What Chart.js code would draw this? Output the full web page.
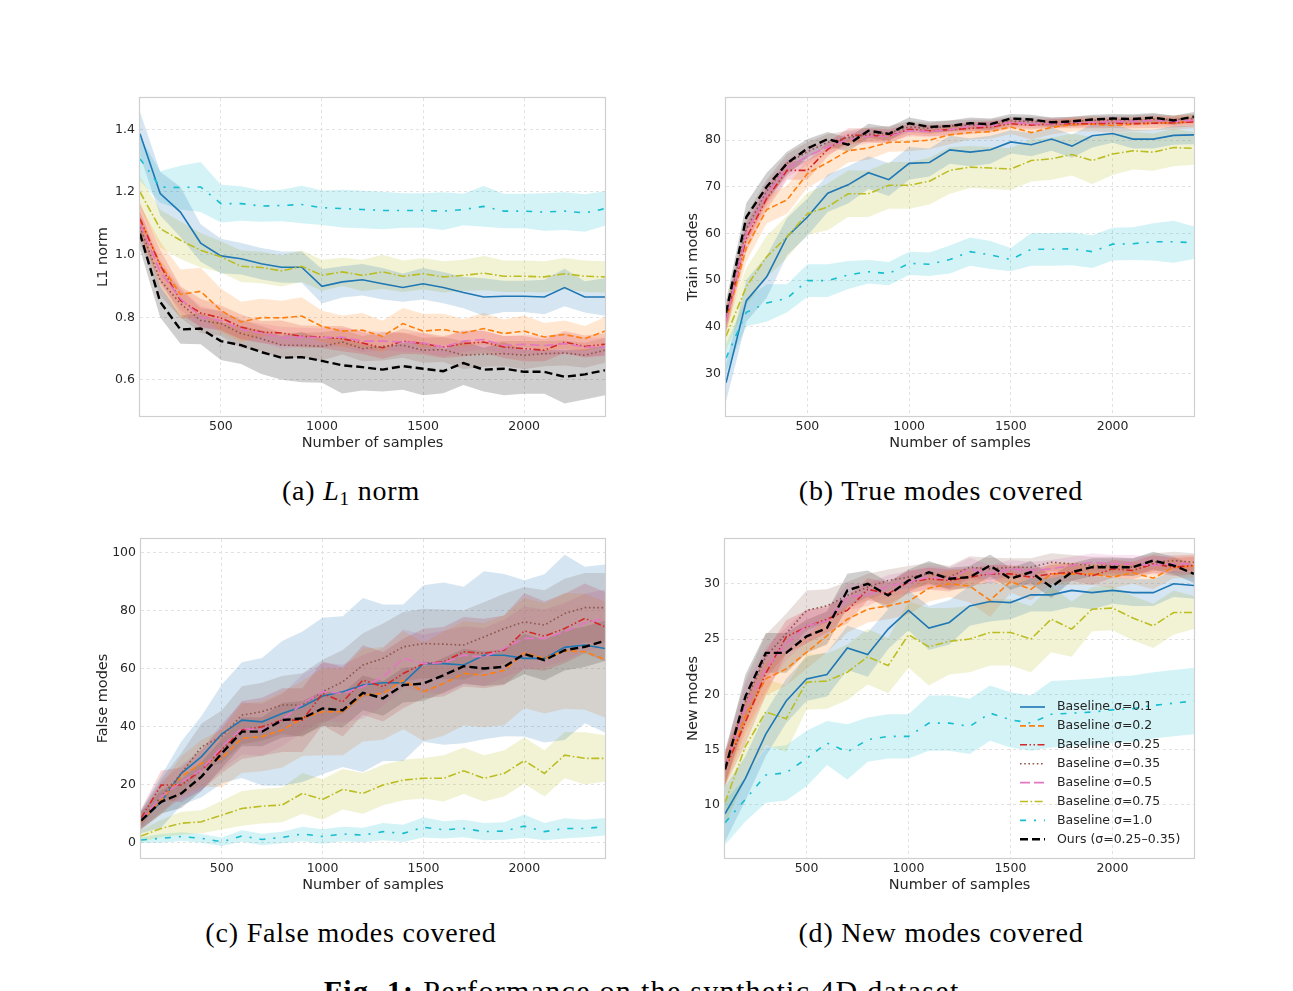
<!DOCTYPE html>
<html>
<head>
<meta charset="utf-8">
<title>Performance on the synthetic 4D dataset</title>
<script src="https://cdn.jsdelivr.net/npm/chart.js@4.4.1/dist/chart.umd.min.js"></script>
<style>
  html, body { margin: 0; padding: 0; background: #fff; }
  body { width: 1293px; height: 991px; position: relative; overflow: hidden; }
  canvas { position: absolute; }
  .cap {
    position: absolute;
    font-family: "Liberation Serif", "DejaVu Serif", serif;
    font-size: 28px;
    line-height: 28px;
    color: #000;
    white-space: nowrap;
    letter-spacing: 0.8px;
    transform: translateX(-50%);
  }
  .cap sub { font-size: 19px; vertical-align: -5px; line-height: 0; }
  .cap.fig { font-size: 30px; line-height: 30px; letter-spacing: 1.3px; }
</style>
</head>
<body>
<canvas id="chartA" width="525" height="372" style="left:90px;top:88px"></canvas>
<canvas id="chartB" width="524" height="372" style="left:680px;top:88px"></canvas>
<canvas id="chartC" width="525" height="373" style="left:90px;top:529px"></canvas>
<canvas id="chartD" width="524" height="373" style="left:680px;top:529px"></canvas>

<div class="cap" style="left:351px;top:477px">(a) <i>L</i><sub>1</sub> norm</div>
<div class="cap" style="left:941px;top:477px">(b) True modes covered</div>
<div class="cap" style="left:351px;top:919px">(c) False modes covered</div>
<div class="cap" style="left:941px;top:919px">(d) New modes covered</div>
<div class="cap fig" style="left:646px;top:976px"><b>Fig. 1:</b> Performance on the synthetic 4D dataset.</div>

<script>
// x values shared by every panel
const SAMPLES = [100, 200, 300, 400, 500, 600, 700, 800, 900, 1000, 1100, 1200,
                 1300, 1400, 1500, 1600, 1700, 1800, 1900, 2000, 2100, 2200, 2300, 2400];
const X_TICKS = [500, 1000, 1500, 2000];

const LABELS = ["Baseline σ=0.1", "Baseline σ=0.2", "Baseline σ=0.25", "Baseline σ=0.35",
                "Baseline σ=0.5", "Baseline σ=0.75", "Baseline σ=1.0", "Ours (σ=0.25–0.35)"];

// (a) L1 norm
const L1_TICKS = [0.6, 0.8, 1.0, 1.2, 1.4];
const L1_S010 = [1.386, 1.195, 1.136, 1.037, 0.996, 0.987, 0.971, 0.960, 0.960, 0.899, 0.913, 0.920, 0.907, 0.895, 0.907, 0.895, 0.879, 0.865, 0.867, 0.867, 0.865, 0.895, 0.865, 0.865];
const L1_S020 = [1.110, 0.971, 0.873, 0.883, 0.822, 0.785, 0.799, 0.798, 0.804, 0.771, 0.756, 0.759, 0.739, 0.780, 0.756, 0.761, 0.750, 0.764, 0.748, 0.756, 0.737, 0.745, 0.732, 0.756];
const L1_S025 = [1.115, 0.966, 0.854, 0.814, 0.798, 0.769, 0.753, 0.750, 0.739, 0.737, 0.732, 0.718, 0.703, 0.724, 0.716, 0.705, 0.716, 0.721, 0.705, 0.700, 0.695, 0.721, 0.707, 0.714];
const L1_S035 = [1.088, 0.918, 0.844, 0.790, 0.780, 0.748, 0.732, 0.711, 0.711, 0.707, 0.721, 0.700, 0.707, 0.711, 0.695, 0.697, 0.679, 0.682, 0.684, 0.679, 0.684, 0.686, 0.679, 0.695];
const L1_S050 = [1.099, 0.945, 0.860, 0.801, 0.790, 0.761, 0.750, 0.735, 0.737, 0.735, 0.737, 0.724, 0.724, 0.721, 0.718, 0.705, 0.724, 0.729, 0.710, 0.714, 0.710, 0.716, 0.705, 0.705];
const L1_S075 = [1.200, 1.083, 1.046, 1.014, 0.993, 0.963, 0.959, 0.948, 0.963, 0.934, 0.945, 0.934, 0.945, 0.931, 0.939, 0.929, 0.934, 0.941, 0.931, 0.931, 0.929, 0.939, 0.931, 0.929];
const L1_S100 = [1.306, 1.216, 1.214, 1.216, 1.163, 1.163, 1.155, 1.157, 1.160, 1.150, 1.147, 1.144, 1.141, 1.141, 1.141, 1.139, 1.144, 1.154, 1.139, 1.139, 1.136, 1.139, 1.133, 1.147];
const L1_OURS = [1.067, 0.849, 0.761, 0.764, 0.724, 0.711, 0.689, 0.671, 0.673, 0.661, 0.647, 0.641, 0.633, 0.644, 0.636, 0.628, 0.654, 0.633, 0.636, 0.626, 0.626, 0.610, 0.618, 0.631];
// half widths of the shaded bands
const L1_S010_ERR = [0.07, 0.07, 0.08, 0.06, 0.055, 0.05, 0.05, 0.05, 0.05, 0.055, 0.05, 0.05, 0.05, 0.045, 0.05, 0.05, 0.05, 0.06, 0.05, 0.05, 0.055, 0.06, 0.05, 0.06];
const L1_S020_ERR = [0.05, 0.07, 0.08, 0.075, 0.07, 0.065, 0.06, 0.055, 0.06, 0.05, 0.05, 0.055, 0.05, 0.05, 0.055, 0.05, 0.045, 0.05, 0.045, 0.05, 0.045, 0.045, 0.04, 0.045];
const L1_S025_ERR = [0.05, 0.05, 0.045, 0.045, 0.04, 0.04, 0.035, 0.04, 0.035, 0.035, 0.04, 0.035, 0.035, 0.04, 0.035, 0.035, 0.04, 0.035, 0.035, 0.04, 0.035, 0.035, 0.035, 0.035];
const L1_S035_ERR = [0.05, 0.05, 0.045, 0.04, 0.04, 0.045, 0.04, 0.04, 0.04, 0.045, 0.04, 0.04, 0.045, 0.04, 0.04, 0.04, 0.045, 0.04, 0.04, 0.045, 0.04, 0.04, 0.04, 0.04];
const L1_S050_ERR = [0.04, 0.04, 0.035, 0.035, 0.03, 0.03, 0.03, 0.035, 0.03, 0.03, 0.03, 0.035, 0.03, 0.03, 0.03, 0.03, 0.035, 0.03, 0.03, 0.03, 0.03, 0.035, 0.03, 0.03];
const L1_S075_ERR = [0.05, 0.06, 0.06, 0.055, 0.05, 0.05, 0.05, 0.05, 0.05, 0.05, 0.045, 0.05, 0.055, 0.05, 0.05, 0.05, 0.05, 0.055, 0.05, 0.05, 0.05, 0.05, 0.05, 0.05];
const L1_S100_ERR = [0.07, 0.05, 0.07, 0.08, 0.06, 0.055, 0.05, 0.05, 0.06, 0.055, 0.06, 0.06, 0.06, 0.055, 0.055, 0.06, 0.05, 0.065, 0.055, 0.055, 0.06, 0.06, 0.06, 0.055];
const L1_OURS_ERR = [0.05, 0.05, 0.045, 0.05, 0.06, 0.06, 0.07, 0.07, 0.08, 0.07, 0.09, 0.075, 0.07, 0.075, 0.085, 0.07, 0.07, 0.07, 0.085, 0.07, 0.07, 0.085, 0.08, 0.08];

// (b) true modes covered
const TM_TICKS = [30, 40, 50, 60, 70, 80];
const TM_S010 = [28.0, 45.6, 50.7, 59.3, 63.5, 68.6, 70.4, 73.0, 71.5, 75.0, 75.2, 77.9, 77.4, 77.9, 79.6, 79.0, 80.2, 78.7, 80.9, 81.4, 80.2, 80.2, 81.0, 81.1];
const TM_S020 = [41.1, 57.0, 65.1, 67.2, 72.8, 75.2, 77.7, 78.3, 79.5, 79.6, 80.0, 81.1, 81.6, 81.8, 82.8, 81.6, 82.7, 83.3, 83.4, 83.1, 83.4, 83.6, 83.7, 84.0];
const TM_S025 = [41.5, 59.0, 67.5, 73.5, 73.5, 78.0, 81.0, 81.0, 80.8, 82.3, 82.0, 82.2, 82.5, 82.8, 83.5, 83.2, 83.5, 83.5, 83.5, 83.6, 83.5, 83.6, 83.7, 83.9];
const TM_S035 = [42.0, 61.0, 69.0, 75.0, 77.5, 79.5, 80.5, 81.2, 81.5, 82.8, 82.5, 83.0, 83.2, 83.2, 84.0, 84.0, 83.8, 84.0, 84.2, 84.2, 84.3, 84.5, 84.3, 84.6];
const TM_S050 = [41.0, 60.0, 68.5, 74.0, 76.5, 78.5, 80.0, 80.8, 80.8, 82.0, 81.8, 82.2, 83.0, 83.0, 83.8, 83.5, 83.5, 83.8, 83.8, 84.0, 84.0, 84.2, 84.0, 84.2];
const TM_S075 = [38.0, 48.6, 55.0, 59.3, 64.2, 65.7, 68.5, 68.5, 70.3, 70.3, 71.2, 73.5, 74.2, 74.0, 73.8, 75.6, 76.0, 76.9, 75.6, 77.0, 77.7, 77.4, 78.4, 78.2];
const TM_S100 = [33.3, 43.1, 45.1, 46.1, 49.9, 49.9, 51.1, 51.8, 51.4, 53.6, 53.4, 54.4, 56.1, 55.4, 54.4, 56.6, 56.6, 56.7, 56.1, 57.7, 57.8, 58.2, 58.2, 58.0];
const TM_OURS = [43.0, 63.5, 70.0, 75.0, 78.2, 80.2, 79.0, 82.0, 81.3, 83.6, 82.8, 83.0, 83.6, 83.4, 84.6, 84.4, 83.8, 84.0, 84.4, 84.6, 84.5, 84.8, 84.2, 85.0];
const TM_S010_ERR = [4, 4.5, 4.5, 4, 4, 4, 4, 3.5, 3.5, 3.5, 3, 3, 3, 3, 2.5, 2.5, 2.5, 2.5, 2.5, 2, 2, 2, 2, 2];
const TM_S020_ERR = [2.5, 3, 3, 3, 3, 3, 2.5, 2.5, 2, 2, 2, 2, 1.5, 1.5, 1.5, 1.5, 1.5, 1.5, 1.5, 1.5, 1.5, 1.5, 1.5, 1.5];
const TM_S025_ERR = [2.5, 3, 2.5, 2, 2, 1.5, 1.5, 1.5, 1.5, 1.2, 1.2, 1.2, 1.2, 1.2, 1, 1, 1, 1, 1, 1, 1, 1, 1, 1];
const TM_S035_ERR = [2.5, 3, 2.5, 2, 2, 1.8, 1.5, 1.5, 1.5, 1.2, 1.2, 1.2, 1.2, 1.2, 1, 1, 1, 1, 1, 1, 1, 1, 1, 1];
const TM_S050_ERR = [2.5, 2.5, 2.5, 2, 1.8, 1.5, 1.5, 1.5, 1.2, 1.2, 1.2, 1.2, 1, 1, 1, 1, 1, 1, 1, 1, 1, 1, 1, 1];
const TM_S075_ERR = [3, 4, 4.5, 4.5, 4.5, 5, 5, 5, 5, 5, 5, 5, 4.5, 4.5, 4.5, 4.5, 4.5, 4.5, 5, 4.5, 4, 4, 4, 3.5];
const TM_S100_ERR = [3, 3, 4, 3, 3.5, 3.5, 3, 2.5, 2.5, 2.5, 2.5, 3, 3, 3, 2.5, 3.5, 3.5, 3.5, 3.5, 3.5, 3.5, 4, 4.5, 3.5];
const TM_OURS_ERR = [2.5, 3, 3, 2.5, 2, 1.5, 1.5, 1.5, 1.5, 1.2, 1.2, 1.2, 1.2, 1.2, 1, 1, 1, 1, 1, 1, 1, 1, 1, 1];

// (c) false modes covered
const FM_TICKS = [0, 20, 40, 60, 80, 100];
const FM_S010 = [7.2, 14.1, 23.9, 29.7, 37.5, 42.3, 41.7, 44.6, 46.9, 50.6, 52.1, 54.4, 55.2, 55.2, 61.8, 61.8, 61.3, 64.7, 64.7, 63.6, 63.6, 67.4, 68.2, 67.0];
const FM_S020 = [7.2, 14.7, 22.8, 27.4, 29.1, 36.0, 36.6, 38.9, 42.9, 45.2, 45.2, 50.9, 51.5, 56.1, 52.1, 54.9, 58.4, 57.8, 59.5, 65.5, 63.6, 66.2, 65.9, 63.2];
const FM_S025 = [8.4, 19.9, 19.9, 25.1, 32.0, 38.9, 40.0, 42.3, 42.3, 51.5, 48.6, 56.1, 53.8, 58.4, 61.8, 62.4, 65.9, 65.3, 66.4, 73.1, 71.3, 73.9, 77.4, 74.5];
const FM_S035 = [7.8, 15.9, 23.9, 33.1, 36.6, 44.0, 45.2, 47.5, 47.5, 52.1, 55.5, 61.3, 63.6, 67.6, 68.7, 68.5, 68.2, 71.0, 73.9, 76.2, 75.1, 79.1, 81.1, 81.1];
const FM_S050 = [7.8, 15.9, 21.0, 25.1, 33.1, 39.4, 38.9, 42.3, 48.0, 52.1, 51.5, 53.8, 57.2, 63.6, 61.8, 62.1, 64.7, 64.1, 67.0, 70.5, 70.5, 72.8, 75.9, 77.4];
const FM_S075 = [2.3, 4.9, 6.7, 7.2, 9.5, 11.8, 12.6, 13.0, 17.0, 14.9, 18.4, 17.0, 19.9, 21.6, 22.2, 22.2, 24.8, 22.2, 23.9, 28.3, 23.9, 30.2, 29.1, 29.1];
const FM_S100 = [0.9, 1.5, 2.1, 1.5, 0.3, 2.3, 1.1, 1.8, 3.0, 2.1, 3.0, 2.6, 3.8, 3.2, 5.3, 4.4, 4.9, 3.8, 4.0, 5.7, 3.8, 4.9, 4.9, 5.5];
const FM_OURS = [7.6, 14.1, 17.0, 22.8, 30.8, 38.3, 38.3, 42.3, 42.9, 46.3, 45.7, 51.7, 49.8, 54.4, 54.9, 57.8, 60.9, 60.1, 60.7, 65.1, 63.0, 66.4, 67.6, 69.7];
const FM_S010_ERR = [4, 9, 11, 14, 17, 20, 22, 25, 26, 27, 26, 30, 27, 27, 27, 28, 27, 29, 28, 27, 29, 32, 27, 29];
const FM_S020_ERR = [3, 5, 7, 8, 10, 12, 12, 13, 13, 15, 15, 16, 16, 17, 17, 18, 18, 18, 19, 19, 19, 20, 20, 20];
const FM_S025_ERR = [3, 5, 6, 7, 8, 10, 10, 11, 11, 11, 12, 12, 12, 12, 12, 12, 12, 12, 12, 13, 12, 12, 12, 12];
const FM_S035_ERR = [3, 6, 7, 8, 9, 10, 10, 10, 11, 11, 11, 11, 12, 12, 12, 12, 12, 12, 12, 12, 12, 12, 12, 12];
const FM_S050_ERR = [3, 5, 6, 7, 8, 9, 9, 9, 10, 10, 10, 11, 10, 10, 10, 11, 10, 10, 10, 11, 10, 10, 10, 10];
const FM_S075_ERR = [2, 3, 4, 4, 5, 6, 6, 6, 7, 7, 7, 7, 7, 7, 7, 8, 8, 8, 8, 8, 8, 8, 9, 8];
const FM_S100_ERR = [1, 1.5, 1.5, 1.5, 1.5, 2, 2, 2, 2.5, 2.5, 2.5, 2.5, 3, 3, 3.5, 3, 3, 3, 3, 4, 3, 3.5, 3, 3];
const FM_OURS_ERR = [3, 4, 5, 5, 5, 5, 5, 6, 6, 6, 6, 6, 6, 6, 6, 6, 6, 6, 6, 7, 7, 7, 7, 7];

// (d) new modes covered
const NM_TICKS = [10, 15, 20, 25, 30];
const NM_S010 = [9.2, 12.4, 16.4, 19.4, 21.4, 21.8, 24.2, 23.6, 25.9, 27.6, 26.0, 26.5, 28.0, 28.4, 28.3, 29.0, 29.0, 29.4, 29.2, 29.4, 29.2, 29.2, 30.0, 29.85];
const NM_S020 = [13.2, 18.0, 21.4, 22.3, 23.8, 25.3, 26.8, 27.7, 28.0, 28.4, 29.6, 30.0, 29.8, 28.5, 30.2, 29.5, 30.9, 30.9, 30.9, 30.6, 31.0, 30.5, 31.5, 31.6];
const NM_S025 = [13.2, 17.5, 21.9, 25.2, 26.1, 26.8, 27.6, 29.5, 29.1, 30.15, 30.45, 30.3, 30.6, 30.9, 30.9, 30.6, 30.9, 31.05, 30.7, 31.35, 31.2, 31.8, 31.5, 31.65];
const NM_S035 = [13.5, 19.3, 23.4, 25.5, 27.6, 28.0, 28.95, 29.7, 30.3, 30.6, 30.9, 30.6, 31.5, 31.35, 31.5, 31.5, 31.95, 31.8, 31.65, 31.65, 31.5, 31.95, 32.1, 31.95];
const NM_S050 = [13.3, 18.9, 22.3, 24.6, 26.2, 26.6, 28.8, 29.0, 29.8, 30.15, 30.6, 30.45, 31.35, 30.9, 31.35, 31.2, 31.35, 31.65, 31.95, 31.8, 31.8, 31.65, 31.8, 31.8];
const NM_S075 = [10.2, 15.3, 18.4, 17.8, 21.1, 21.2, 22.0, 23.4, 22.6, 25.4, 24.3, 24.8, 25.0, 25.6, 25.6, 25.0, 26.8, 25.9, 27.7, 27.8, 26.9, 26.2, 27.4, 27.4];
const NM_S100 = [8.4, 10.5, 12.7, 12.9, 14.2, 15.6, 14.8, 15.9, 16.2, 16.2, 17.4, 17.4, 17.1, 18.3, 17.7, 17.4, 18.2, 18.3, 18.4, 18.6, 18.7, 19.0, 19.2, 19.4];
const NM_OURS = [13.2, 19.8, 23.75, 23.75, 25.25, 26.0, 29.4, 30.0, 28.95, 30.3, 31.05, 30.45, 30.6, 31.65, 30.45, 31.05, 29.7, 31.05, 31.5, 31.5, 31.5, 32.1, 31.65, 30.9];
const NM_S010_ERR = [2.5, 2, 2, 2, 2, 2, 2, 2, 1.8, 1.8, 2, 2, 1.8, 1.8, 1.5, 1.5, 1.5, 1.5, 1.5, 1.2, 1.2, 1.2, 1.2, 1.2];
const NM_S020_ERR = [1.5, 1.5, 1.5, 1.5, 1.5, 1.5, 1.2, 1.2, 1.2, 1.2, 1.2, 1.2, 1.5, 1.5, 1, 1, 1, 1, 1, 1, 1, 1, 1, 1];
const NM_S025_ERR = [1.5, 2, 2, 1.5, 1.5, 1.2, 1.2, 1, 1, 1, 1, 1, 0.8, 0.8, 0.8, 0.8, 0.8, 0.8, 0.8, 0.8, 0.8, 0.8, 0.8, 0.8];
const NM_S035_ERR = [1.5, 2, 2, 1.8, 1.8, 1.5, 1.2, 1.2, 1, 1, 1, 1, 1, 1, 0.8, 0.8, 0.8, 0.8, 0.8, 0.8, 0.8, 0.8, 0.8, 0.8];
const NM_S050_ERR = [1.5, 2, 2, 1.5, 1.5, 1.2, 1.2, 1, 1, 1, 1, 1, 1, 0.8, 0.8, 0.8, 0.8, 0.8, 0.8, 0.8, 0.8, 0.8, 0.8, 0.8];
const NM_S075_ERR = [2, 3, 3, 3, 2.5, 2.5, 2.5, 2.5, 2.5, 3, 3.5, 3, 3, 3, 3, 3, 3, 2.5, 2, 2, 2, 2, 2, 1.5];
const NM_S100_ERR = [2, 2, 2.5, 2.5, 2.5, 2, 2.5, 2, 2, 2, 2.5, 2.5, 2.5, 2.5, 2.5, 2.5, 3, 3, 3, 3, 3, 3, 3, 3];
const NM_OURS_ERR = [1.5, 2, 1.8, 1.8, 1.5, 1.5, 1.5, 1.2, 1.2, 1, 1, 1, 1, 1, 1, 1, 1, 0.8, 0.8, 0.8, 0.8, 0.8, 0.8, 0.8];

// line look for each series (same order as LABELS)
const STYLES = [
  { color: "#1f77b4", dash: [], width: 1.6 },
  { color: "#ff7f0e", dash: [6, 3], width: 1.6 },
  { color: "#d62728", dash: [7, 2.5, 1.5, 2.5, 1.5, 2.5], width: 1.6 },
  { color: "#8c564b", dash: [1.6, 2.6], width: 1.6 },
  { color: "#e377c2", dash: [10, 4], width: 1.6 },
  { color: "#bcbd22", dash: [8, 2.5, 1.6, 2.5], width: 1.6 },
  { color: "#17becf", dash: [6, 8, 2, 8], width: 1.6 },
  { color: "#000000", dash: [8, 4], width: 2.4 },
];

Chart.defaults.font.family = '"DejaVu Sans", sans-serif';
Chart.defaults.color = "#262626";

const hexToRgba = (hex, a) => {
  const n = parseInt(hex.slice(1), 16);
  return `rgba(${(n >> 16) & 255}, ${(n >> 8) & 255}, ${n & 255}, ${a})`;
};

// thin light frame round the plot area, like the matplotlib spines
const framePlugin = {
  id: "frame",
  afterDatasetsDraw(chart) {
    const { ctx, chartArea: a } = chart;
    ctx.save();
    ctx.strokeStyle = "#cfcfcf";
    ctx.lineWidth = 1.2;
    ctx.strokeRect(Math.round(a.left) - 0.5, Math.round(a.top) - 0.5,
                   Math.round(a.width) + 1, Math.round(a.height) + 1);
    ctx.restore();
  },
};

// legend inside the plot, no box (panel d only)
const insideLegend = {
  id: "insideLegend",
  afterDatasetsDraw(chart) {
    const { ctx, chartArea: a } = chart;
    const x0 = a.right - 174;
    LABELS.forEach((label, k) => {
      const ds = chart.data.datasets[k];
      const y = a.bottom - 151 + k * 18.9;
      ctx.save();
      ctx.strokeStyle = ds.borderColor;
      ctx.lineWidth = ds.borderWidth;
      ctx.setLineDash(ds.borderDash);
      ctx.beginPath();
      ctx.moveTo(x0, y);
      ctx.lineTo(x0 + 25, y);
      ctx.stroke();
      ctx.restore();
      ctx.save();
      ctx.fillStyle = "#262626";
      ctx.font = '12.5px "DejaVu Sans"';
      ctx.textBaseline = "middle";
      ctx.fillText(label, x0 + 37, y);
      ctx.restore();
    });
  },
};

function buildChart(id, series, errs, opts) {
  const datasets = [];
  series.forEach((vals, k) => {
    datasets.push({
      label: LABELS[k],
      data: vals.map((v, i) => ({ x: SAMPLES[i], y: v })),
      borderColor: STYLES[k].color,
      borderDash: STYLES[k].dash,
      borderWidth: STYLES[k].width,
      pointRadius: 0,
      fill: false,
      tension: 0,
      order: series.length - k,
    });
  });
  // shaded bands: lower edge + upper edge filled to it
  series.forEach((vals, k) => {
    const lowIdx = datasets.length;
    datasets.push({
      data: vals.map((v, i) => ({ x: SAMPLES[i], y: v - errs[k][i] })),
      borderColor: "rgba(0,0,0,0)",
      borderWidth: 1,
      pointRadius: 0,
      fill: false,
      order: 50,
    });
    datasets.push({
      data: vals.map((v, i) => ({ x: SAMPLES[i], y: v + errs[k][i] })),
      borderColor: "rgba(0,0,0,0)",
      borderWidth: 1,
      pointRadius: 0,
      fill: lowIdx,
      backgroundColor: hexToRgba(STYLES[k].color, 0.19),
      order: 50,
    });
  });

  return new Chart(document.getElementById(id), {
    type: "line",
    data: { datasets },
    plugins: opts.legend ? [framePlugin, insideLegend] : [framePlugin],
    options: {
      responsive: false,
      animation: false,
      devicePixelRatio: 1,
      events: [],
      layout: { padding: { top: 10, right: 10, left: 0, bottom: 0 } },
      plugins: {
        legend: { display: false },
        tooltip: { enabled: false },
        filler: { drawTime: "beforeDatasetsDraw" },
      },
      scales: {
        x: {
          type: "linear",
          min: 100,
          max: 2400,
          afterBuildTicks: (s) => { s.ticks = X_TICKS.map((v) => ({ value: v })); },
          afterFit: (s) => { s.height = 44; s.paddingLeft = 0; s.paddingRight = 0; },
          grid: { color: "#e2e2e2", lineWidth: 1, drawTicks: false },
          border: { display: false, dash: [3, 3] },
          ticks: { padding: 3, autoSkip: false, maxRotation: 0, font: { size: 12.5 }, callback: (v) => String(v) },
          title: { display: true, text: "Number of samples", font: { size: 14.5 }, padding: { top: 0, bottom: 8 } },
        },
        y: {
          min: opts.yMin,
          max: opts.yMax,
          afterBuildTicks: (s) => { s.ticks = opts.yTicks.map((v) => ({ value: v })); },
          afterFit: (s) => { s.width = opts.yWidth; s.paddingTop = 0; s.paddingBottom = 0; },
          grid: { color: "#e2e2e2", lineWidth: 1, drawTicks: false },
          border: { display: false, dash: [3, 3] },
          ticks: {
            padding: 5,
            autoSkip: false,
            font: { size: 12.5 },
            callback: (v) => v.toFixed(opts.decimals),
          },
          title: { display: true, text: opts.yTitle, font: { size: 14.5 }, padding: { top: 5, bottom: 0 } },
        },
      },
    },
  });
}

buildChart("chartA",
  [L1_S010, L1_S020, L1_S025, L1_S035, L1_S050, L1_S075, L1_S100, L1_OURS],
  [L1_S010_ERR, L1_S020_ERR, L1_S025_ERR, L1_S035_ERR, L1_S050_ERR, L1_S075_ERR, L1_S100_ERR, L1_OURS_ERR],
  { yMin: 0.485, yMax: 1.5, yTicks: L1_TICKS, yTitle: "L1 norm", decimals: 1, yWidth: 50 });

buildChart("chartB",
  [TM_S010, TM_S020, TM_S025, TM_S035, TM_S050, TM_S075, TM_S100, TM_OURS],
  [TM_S010_ERR, TM_S020_ERR, TM_S025_ERR, TM_S035_ERR, TM_S050_ERR, TM_S075_ERR, TM_S100_ERR, TM_OURS_ERR],
  { yMin: 20.9, yMax: 89, yTicks: TM_TICKS, yTitle: "Train modes", decimals: 0, yWidth: 46 });

buildChart("chartC",
  [FM_S010, FM_S020, FM_S025, FM_S035, FM_S050, FM_S075, FM_S100, FM_OURS],
  [FM_S010_ERR, FM_S020_ERR, FM_S025_ERR, FM_S035_ERR, FM_S050_ERR, FM_S075_ERR, FM_S100_ERR, FM_OURS_ERR],
  { yMin: -5.3, yMax: 104.8, yTicks: FM_TICKS, yTitle: "False modes", decimals: 0, yWidth: 51 });

buildChart("chartD",
  [NM_S010, NM_S020, NM_S025, NM_S035, NM_S050, NM_S075, NM_S100, NM_OURS],
  [NM_S010_ERR, NM_S020_ERR, NM_S025_ERR, NM_S035_ERR, NM_S050_ERR, NM_S075_ERR, NM_S100_ERR, NM_OURS_ERR],
  { yMin: 5.2, yMax: 34.05, yTicks: NM_TICKS, yTitle: "New modes", decimals: 0, yWidth: 45, legend: true });
</script>
</body>
</html>
